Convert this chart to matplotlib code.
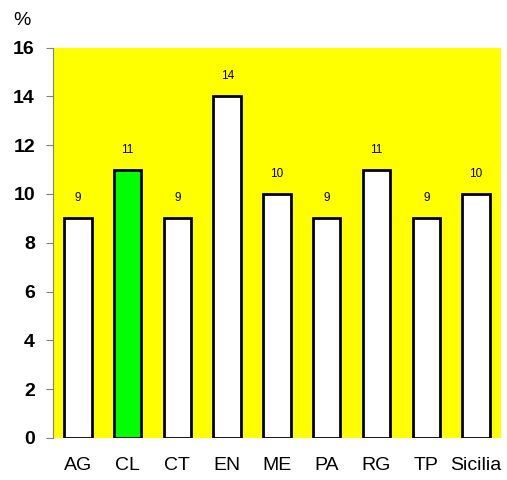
import matplotlib.pyplot as plt
import numpy as np

plt.rcParams['font.family'] = ['Liberation Sans', 'DejaVu Sans']

provinces = ["AG", "CL", "CT", "EN", "ME", "PA", "RG", "TP", "Sicilia"]
values = [9, 11, 9, 14, 10, 9, 11, 9, 10]
bar_colors = ["white", "#00ff00", "white", "white", "white", "white", "white", "white", "white"]

fig = plt.figure(figsize=(5.07, 4.8), dpi=100)
ax = fig.add_axes([0.1045, 0.0875, 0.8835, 0.8135])
ax.set_facecolor("#ffff00")

x = np.arange(len(provinces))
ax.bar(x, values, width=0.55, color=bar_colors, edgecolor="black", linewidth=2, zorder=3)

for xi, v in zip(x, values):
    ax.annotate(str(v), (xi, v), xytext=(0, 10), textcoords="offset points",
                ha="center", va="bottom", fontsize=8.5)

ax.set_xlim(-0.5, len(provinces) - 0.5)
ax.set_ylim(0, 16)
ax.set_yticks(range(0, 17, 2))
ax.set_yticklabels([str(t) for t in range(0, 17, 2)], fontweight="bold", fontsize=14)
ax.set_xticks(x)
ax.set_xticklabels(provinces, fontsize=14)
ax.tick_params(axis="x", length=0, pad=14)
ax.tick_params(axis="y", length=5, color="#808080", pad=8)

for s in ["top", "right", "bottom"]:
    ax.spines[s].set_visible(False)
ax.spines["left"].set_color("#808080")

fig.text(0.026, 0.94, "%", fontsize=14, ha="left", va="bottom")

fig.savefig("out.png", dpi=100)
